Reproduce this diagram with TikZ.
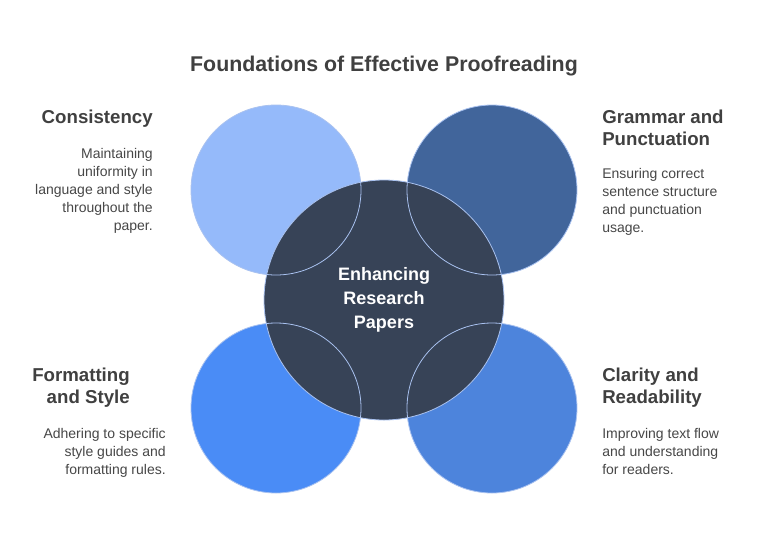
\documentclass[tikz,border=0pt]{standalone}
\usepackage{fontspec}
\setmainfont{Liberation Sans}
\begin{document}
\begin{tikzpicture}[x=0.75pt,y=-0.75pt,
  head/.style={font=\bfseries\fontsize{14}{16}\selectfont, text=black!75},
  body/.style={font=\fontsize{10.5}{13.5}\selectfont, text=black!72},
  lbl/.style={inner sep=0pt}]
\useasboundingbox[fill=white] (0,0) rectangle (768,540);
\definecolor{cTL}{HTML}{95BAFA}
\definecolor{cTR}{HTML}{41659B}
\definecolor{cBL}{HTML}{4A8CF6}
\definecolor{cBR}{HTML}{4D84DC}
\definecolor{cC}{HTML}{374357}
\definecolor{edge}{HTML}{A9C2F0}
\fill[cTL] (276,190) circle (85);
\fill[cTR] (492,190) circle (85);
\fill[cBL] (276,408) circle (85);
\fill[cBR] (492,408) circle (85);
\fill[cC] (384,300) circle (120);
\draw[edge,line width=0.6pt] (384,300) circle (120);
\foreach \p in {(276,190),(492,190),(276,408),(492,408)} \draw[edge,line width=0.6pt] \p circle (85);
\node[font=\bfseries\fontsize{16}{18}\selectfont,text=black!75] (title) at (384,66) {Foundations of Effective Proofreading};
\node[font=\bfseries\fontsize{13.5}{18}\selectfont,text=white,align=center] (ctr) at (384,300) {Enhancing\\Research\\Papers};
\node[head,lbl,anchor=north east,align=right] (h1) at (153,110) {Consistency};
\node[body,lbl,anchor=north east,align=right] (b1) at (153,148) {Maintaining\\uniformity in\\language and style\\throughout the\\paper.};
\node[head,lbl,anchor=north west,align=left] (h2) at (602,110) {Grammar and\\Punctuation};
\node[body,lbl,anchor=north west,align=left] (b2) at (602,168) {Ensuring correct\\sentence structure\\and punctuation\\usage.};
\node[head,lbl,anchor=north east,align=right] (h3) at (130,368) {Formatting\\and Style};
\node[body,lbl,anchor=north east,align=right] (b3) at (166,428) {Adhering to specific\\style guides and\\formatting rules.};
\node[head,lbl,anchor=north west,align=left] (h4) at (602,368) {Clarity and\\Readability};
\node[body,lbl,anchor=north west,align=left] (b4) at (602,428) {Improving text flow\\and understanding\\for readers.};
\end{tikzpicture}
\end{document}
